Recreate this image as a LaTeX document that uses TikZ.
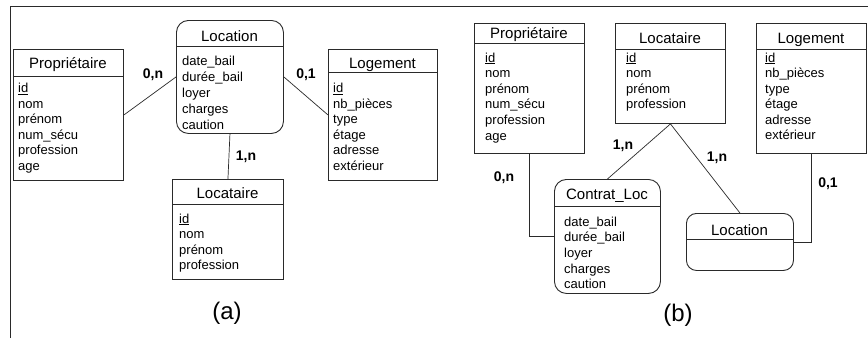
\documentclass[tikz,border=0pt]{standalone}
\usepackage{fontspec}
\setmainfont{Liberation Sans}
\definecolor{linec}{HTML}{2A2A2A}
\begin{document}
\begin{tikzpicture}[x=1pt,y=-1pt,
  box/.style={draw=linec, line width=0.9pt, inner sep=0pt, anchor=north west},
  rbox/.style={box, rounded corners=12pt},
  sepline/.style={draw=linec, line width=0.8pt},
  head/.style={font=\fontsize{15}{18}\selectfont, anchor=base, inner sep=0pt},
  attr/.style={font=\fontsize{13}{15}\selectfont, anchor=base west, inner sep=0pt},
  card/.style={font=\bfseries\fontsize{14}{16}\selectfont, inner sep=0pt},
  link/.style={draw=linec, line width=0.7pt},
  sub/.style={font=\fontsize{24}{28}\selectfont, inner sep=0pt},
  frame/.style={draw=linec, line width=1pt}]
\useasboundingbox[fill=white] (0,0) rectangle (868,338);
% outer frame
\draw[frame] (10,338) -- (10,6) -- (868,6);

% ---------------- (a) ----------------
\node[box, minimum width=110pt, minimum height=131pt] (propA) at (13,49) {};
\draw[sepline] ([yshift=-27pt]propA.north west) -- ([yshift=-27pt]propA.north east);
\node[head] (propAh) at (68,68.5) {Propriétaire};
\foreach \t [count=\i] in {{\underline{id}},nom,prénom,num\_sécu,profession,age}
  \node[attr] (propA-\i) at (18,{92.5+15.6*(\i-1)}) {\t};

\node[rbox, minimum width=107pt, minimum height=113pt] (locA) at (176,20) {};
\draw[sepline] ([yshift=-26pt]locA.north west) -- ([yshift=-26pt]locA.north east);
\node[head] (locAh) at (229.5,41.5) {Location};
\foreach \t [count=\i] in {date\_bail,durée\_bail,loyer,charges,caution}
  \node[attr] (locA-\i) at (182,{65+16*(\i-1)}) {\t};

\node[box, minimum width=109pt, minimum height=131pt] (logA) at (328,49) {};
\draw[sepline] ([yshift=-23pt]logA.north west) -- ([yshift=-23pt]logA.north east);
\node[head] (logAh) at (382.5,68) {Logement};
\foreach \t [count=\i] in {{\underline{id}},nb\_pièces,type,étage,adresse,extérieur}
  \node[attr] (logA-\i) at (333,{92.5+15.6*(\i-1)}) {\t};

\node[box, minimum width=111pt, minimum height=100pt] (tenA) at (172,179) {};
\draw[sepline] ([yshift=-25pt]tenA.north west) -- ([yshift=-25pt]tenA.north east);
\node[head] (tenAh) at (227.5,198) {Locataire};
\foreach \t [count=\i] in {{\underline{id}},nom,prénom,profession}
  \node[attr] (tenA-\i) at (179,{223+15.5*(\i-1)}) {\t};

\draw[link] (propA.east) -- (locA.west);
\draw[link] (locA.east) -- (logA.west);
\draw[link] (locA.south) -- (tenA.north);
\node[card] (cA1) at (153,75) {0,n};
\node[card] (cA2) at (306,75) {0,1};
\node[card] (cA3) at (246,157) {1,n};
\node[sub] (subA) at (227,313) {(a)};

% ---------------- (b) ----------------
\node[box, minimum width=110pt, minimum height=130pt] (propB) at (474,23) {};
\draw[sepline] ([yshift=-20pt]propB.north west) -- ([yshift=-20pt]propB.north east);
\node[head] (propBh) at (529,38) {Propriétaire};
\foreach \t [count=\i] in {{\underline{id}},nom,prénom,num\_sécu,profession,age}
  \node[attr] (propB-\i) at (485,{62+15.6*(\i-1)}) {\t};

\node[box, minimum width=110pt, minimum height=100pt] (tenB) at (615,23) {};
\draw[sepline] ([yshift=-26pt]tenB.north west) -- ([yshift=-26pt]tenB.north east);
\node[head] (tenBh) at (670,43) {Locataire};
\foreach \t [count=\i] in {{\underline{id}},nom,prénom,profession}
  \node[attr] (tenB-\i) at (626,{62+15.6*(\i-1)}) {\t};

\node[box, minimum width=110pt, minimum height=130pt] (logB) at (756,23) {};
\draw[sepline] ([yshift=-26pt]logB.north west) -- ([yshift=-26pt]logB.north east);
\node[head] (logBh) at (811,43) {Logement};
\foreach \t [count=\i] in {{\underline{id}},nb\_pièces,type,étage,adresse,extérieur}
  \node[attr] (logB-\i) at (765,{62+15.5*(\i-1)}) {\t};

\node[rbox, minimum width=106pt, minimum height=114pt] (contrat) at (554,179) {};
\draw[sepline] ([yshift=-27pt]contrat.north west) -- ([yshift=-27pt]contrat.north east);
\node[head] (contrath) at (607,199) {Contrat\_Loc};
\foreach \t [count=\i] in {date\_bail,durée\_bail,loyer,charges,caution}
  \node[attr] (contrat-\i) at (564,{226+15.7*(\i-1)}) {\t};

\node[box, rounded corners=10pt, minimum width=107pt, minimum height=57pt] (locB) at (686,213) {};
\draw[sepline] ([yshift=-26pt]locB.north west) -- ([yshift=-26pt]locB.north east);
\node[head] (locBh) at (739.5,235) {Location};

\draw[link] (propB.south) |- (contrat.west);
\draw[link] (tenB.south) -- (contrat.north);
\draw[link] (tenB.south) -- (locB.north);
\draw[link] (logB.south) |- (locB.east);
\node[card] (cB1) at (504,178) {0,n};
\node[card] (cB2) at (623,146) {1,n};
\node[card] (cB3) at (717,158) {1,n};
\node[card] (cB4) at (828,184) {0,1};
\node[sub] (subB) at (678,315) {(b)};
\end{tikzpicture}
\end{document}
